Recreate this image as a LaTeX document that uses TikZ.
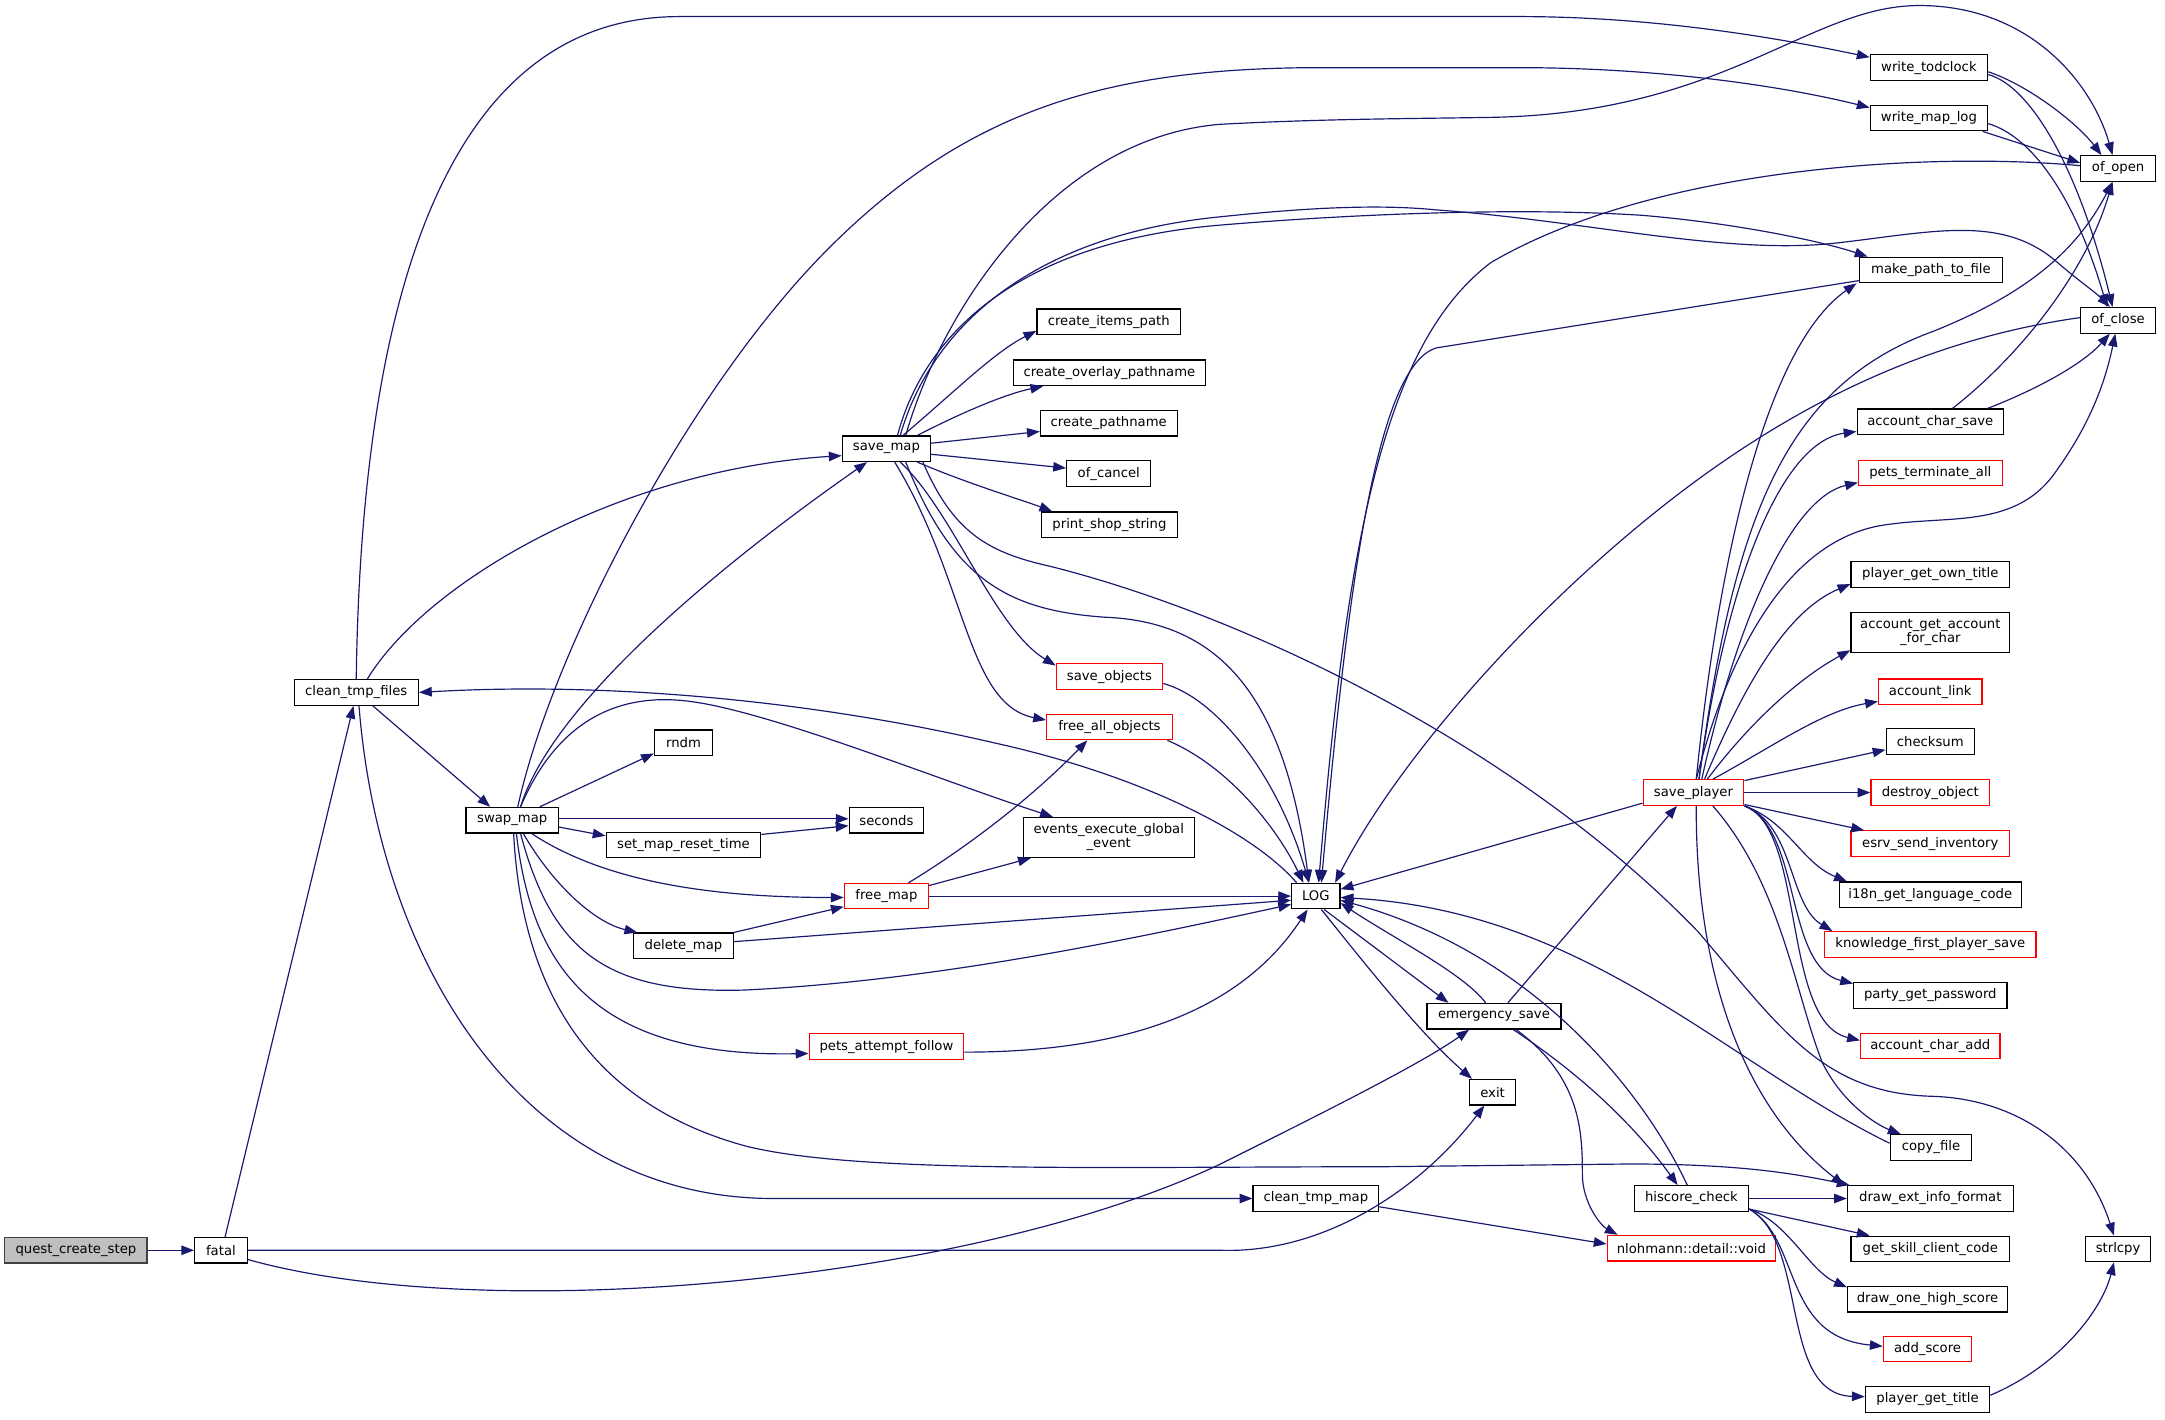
\documentclass[tikz,border=0pt]{standalone}
\usepackage{fontspec}
\setmainfont{DejaVu Sans}
\usetikzlibrary{arrows.meta,calc}
\definecolor{edgeblue}{HTML}{191970}
\definecolor{boxred}{HTML}{FF0000}

\begin{document}
\begin{tikzpicture}[x=0.7pt,y=-0.7pt,
  fn/.style={draw=black, line width=0.6pt, fill=white, inner sep=0.5pt,
    minimum height=12.95pt, font=\fontsize{6.7}{7}\selectfont, align=center},
  redfn/.style={fn, draw=boxred},
  edge/.style={draw=edgeblue, line width=0.6pt, -{Triangle[length=6.5pt,width=4.8pt]}}]
  \useasboundingbox (0,0) rectangle (1568,1028);

  % callers on the left
  \node[fn, fill=gray!50, draw=black!75, minimum width=72.1pt] (qcs) at (55,905.5) {quest\_create\_step};
  \node[fn, minimum width=26.6pt] (fatal) at (160,905.5) {fatal};
  \node[fn, minimum width=63pt] (ctf) at (258,501.5) {clean\_tmp\_files};
  \node[fn, minimum width=46.9pt] (swap) at (371,594) {swap\_map};
  \node[fn, minimum width=44.8pt] (smap) at (642,325) {save\_map};

  % middle columns
  \node[fn, minimum width=72.8pt] (cip) at (803,233) {create\_items\_path};
  \node[fn, minimum width=97.3pt] (cop) at (803.5,270) {create\_overlay\_pathname};
  \node[fn, minimum width=69.3pt] (cpn) at (803,306.5) {create\_pathname};
  \node[fn, minimum width=42.7pt] (ocancel) at (803,343) {of\_cancel};
  \node[fn, minimum width=68.6pt] (pss) at (803.5,380) {print\_shop\_string};
  \node[redfn, minimum width=53.9pt] (sobj) at (803.5,490) {save\_objects};
  \node[redfn, minimum width=63.7pt] (fao) at (803.5,526.5) {free\_all\_objects};
  \node[fn, minimum width=29.4pt] (rndm) at (495,538) {rndm};
  \node[fn, minimum width=37.8pt] (secs) at (642,594) {seconds};
  \node[fn, minimum width=78.4pt] (smrt) at (495,612) {set\_map\_reset\_time};
  \node[fn, minimum width=86.8pt, minimum height=20.3pt] (eeg) at (803,606.5) {events\_execute\_global\\\_event};
  \node[redfn, minimum width=42.7pt] (fmap) at (642,649) {free\_map};
  \node[fn, minimum width=50.4pt] (dmap) at (495,685) {delete\_map};
  \node[redfn, minimum width=78.4pt] (paf) at (642,758) {pets\_attempt\_follow};
  \node[fn, minimum width=24.5pt] (log) at (953,649) {LOG};
  \node[fn, minimum width=67.9pt] (esave) at (1082,736) {emergency\_save};
  \node[fn, minimum width=23.1pt] (exitn) at (1081,791) {exit};
  \node[fn, minimum width=63.7pt] (ctm) at (953,868) {clean\_tmp\_map};
  \node[redfn, minimum width=85.4pt] (nvoid) at (1225,904) {nlohmann::detail::void};
  \node[fn, minimum width=58.1pt] (hsc) at (1225,868) {hiscore\_check};
  \node[redfn, minimum width=51.1pt] (splayer) at (1226.5,574) {save\_player};

  % right columns
  \node[fn, minimum width=59.5pt] (wtc) at (1397,49) {write\_todclock};
  \node[fn, minimum width=59.5pt] (wml) at (1397,85.5) {write\_map\_log};
  \node[fn, minimum width=37.8pt] (oopen) at (1534,122) {of\_open};
  \node[fn, minimum width=72.1pt] (mptf) at (1398.5,195.5) {make\_path\_to\_file};
  \node[fn, minimum width=37.8pt] (oclose) at (1534,232) {of\_close};
  \node[fn, minimum width=74.2pt] (acs) at (1398,305.5) {account\_char\_save};
  \node[redfn, minimum width=72.8pt] (pta) at (1398,342.5) {pets\_terminate\_all};
  \node[fn, minimum width=80.5pt] (pgot) at (1398,416) {player\_get\_own\_title};
  \node[fn, minimum width=80.5pt, minimum height=20.3pt] (agafc) at (1398,458) {account\_get\_account\\\_for\_char};
  \node[redfn, minimum width=52.5pt] (alink) at (1398,501) {account\_link};
  \node[fn, minimum width=44.8pt] (csum) at (1398,537) {checksum};
  \node[redfn, minimum width=60.2pt] (dobj) at (1398,574) {destroy\_object};
  \node[redfn, minimum width=80.5pt] (esi) at (1398,611) {esrv\_send\_inventory};
  \node[fn, minimum width=92.4pt] (i18n) at (1398,648) {i18n\_get\_language\_code};
  \node[redfn, minimum width=107.1pt] (kfps) at (1398,684) {knowledge\_first\_player\_save};
  \node[fn, minimum width=77.7pt] (pgp) at (1398,721) {party\_get\_password};
  \node[redfn, minimum width=70.7pt] (aca) at (1398,757.5) {account\_char\_add};
  \node[fn, minimum width=41.3pt] (cfile) at (1398.5,831) {copy\_file};
  \node[fn, minimum width=84pt] (deif) at (1398,868) {draw\_ext\_info\_format};
  \node[fn, minimum width=80.5pt] (gscc) at (1398,904.5) {get\_skill\_client\_code};
  \node[fn, minimum width=81.2pt] (dohs) at (1396,941) {draw\_one\_high\_score};
  \node[redfn, minimum width=44.8pt] (ascore) at (1396,977) {add\_score};
  \node[fn, minimum width=63pt] (pgt) at (1396,1013.5) {player\_get\_title};
  \node[fn, minimum width=32.9pt] (strl) at (1534,904.5) {strlcpy};

  % fatal
  \draw[edge] (qcs.east) -- (fatal.west);
  \draw[edge] ($(fatal.north)+(3,0)$) -- ($(ctf.south)+(-2,0)$);
  \draw[edge] (fatal.east) -- (884,905.5) .. controls (960,908) and (1030,860) .. ($(exitn.south)+(-6,0)$);
  \draw[edge] ($(fatal.south east)+(0,-3)$) .. controls (350,960) and (700,930) .. (884,843) .. controls (960,805) and (1030,770) .. ($(esave.south)+(-18,0)$);

  % clean_tmp_files
  \draw[edge] (ctf.north) .. controls (262,200) and (330,12) .. (492,12) -- (1100,12) .. controls (1200,12) and (1290,28) .. (wtc.170);
  \draw[edge] ($(ctf.north)+(8,0)$) .. controls (310,420) and (450,340) .. ($(smap.west)+(0,5)$);
  \draw[edge] ($(ctf.south)+(12,0)$) -- ($(swap.north west)+(18,0)$);
  \draw[edge] ($(ctf.south)+(2,0)$) .. controls (275,700) and (380,868) .. (560,868) -- (ctm.west);
  \draw[edge] ($(log.north west)+(4,0)$) .. controls (905,600) and (820,560) .. (720,538) .. controls (600,510) and (450,493) .. (ctf.east);

  % swap_map
  \draw[edge] ($(swap.north)+(6,0)$) .. controls (400,510) and (520,410) .. ($(smap.south)+(-14,0)$);
  \draw[edge] ($(swap.north)+(4,0)$) .. controls (400,470) and (500,280) .. (600,180) .. controls (700,80) and (800,50) .. (950,49) -- (1100,49) .. controls (1200,49) and (1290,62) .. (wml.170);
  \draw[edge] ($(swap.north east)+(-14,0)$) -- ($(rndm.south west)+(0,-2)$);
  \draw[edge] ($(swap.east)+(0,-1)$) -- ($(secs.west)+(0,-1)$);
  \draw[edge] ($(swap.east)+(0,5)$) -- ($(smrt.north west)+(0,3)$);
  \draw[edge] ($(smrt.north east)+(0,2)$) -- ($(secs.west)+(0,4)$);
  \draw[edge] ($(swap.south)+(14,0)$) .. controls (440,640) and (520,650) .. ($(fmap.west)+(0,1)$);
  \draw[edge] ($(swap.south)+(8,0)$) .. controls (400,640) and (430,668) .. ($(dmap.north west)+(3,0)$);
  \draw[edge] (dmap.north east) -- ($(fmap.south west)+(0,-2)$);
  \draw[edge] ($(dmap.east)+(0,-3)$) -- ($(log.west)+(0,3)$);
  \draw[edge] (fmap.east) -- (log.west);
  \draw[edge] ($(fmap.north)+(16,0)$) .. controls (690,620) and (740,585) .. ($(fao.south)+(-16,0)$);
  \draw[edge] ($(fmap.north east)+(0,2)$) -- ($(eeg.south west)+(6,0)$);
  \draw[edge] ($(swap.north)+(6,0)$) .. controls (400,530) and (440,500) .. (500,508) .. controls (560,516) and (680,565) .. ($(eeg.north west)+(22,0)$);
  \draw[edge] ($(swap.south)+(6,0)$) .. controls (400,690) and (440,720) .. (540,717) .. controls (680,710) and (820,680) .. ($(log.west)+(0,6)$);
  \draw[edge] ($(swap.south)+(3,0)$) .. controls (385,700) and (430,766) .. ($(paf.west)+(0,5)$);
  \draw[edge] ($(paf.east)+(0,4)$) .. controls (820,762) and (900,730) .. ($(log.south)+(-6,0)$);
  \draw[edge] ($(swap.south)+(1,0)$) .. controls (378,720) and (430,800) .. (540,830) .. controls (620,850) and (800,845) .. (1000,845) -- (1180,843) .. controls (1260,843) and (1300,850) .. ($(deif.north west)+(2,0)$);

  % save_map
  \draw[edge] ($(smap.north)+(14,0)$) .. controls (680,230) and (760,100) .. (884,90) .. controls (960,86) and (1020,86) .. (1080,85) .. controls (1250,82) and (1310,4) .. (1390,4) .. controls (1470,4) and (1515,60) .. ($(oopen.north)+(-4,0)$);
  \draw[edge] ($(smap.north)+(8,0)$) .. controls (670,240) and (740,175) .. (884,163) .. controls (980,155) and (1100,150) .. (1190,156) .. controls (1260,162) and (1320,175) .. ($(mptf.north west)+(6,0)$);
  \draw[edge] ($(smap.north)+(10,0)$) .. controls (675,235) and (750,170) .. (884,157) .. controls (950,150) and (1000,148) .. (1040,152) .. controls (1150,160) and (1250,185) .. (1330,176) .. controls (1400,168) and (1450,155) .. (1490,190) .. controls (1505,203) and (1518,212) .. ($(oclose.north)+(-6,0)$);
  \draw[edge] ($(smap.north)+(12,0)$) .. controls (690,285) and (720,255) .. ($(cip.south west)+(0,-3)$);
  \draw[edge] ($(smap.north east)+(-10,0)$) .. controls (700,297) and (730,285) .. ($(cop.south west)+(22,0)$);
  \draw[edge] ($(smap.east)+(0,-4)$) -- ($(cpn.west)+(0,6)$);
  \draw[edge] ($(smap.east)+(0,4)$) -- ($(ocancel.west)+(0,-4)$);
  \draw[edge] ($(smap.south east)+(-10,0)$) .. controls (700,350) and (740,362) .. ($(pss.north west)+(8,0)$);
  \draw[edge] ($(smap.south)+(10,0)$) .. controls (690,370) and (720,455) .. ($(sobj.west)+(0,-8)$);
  \draw[edge] ($(smap.south)+(6,0)$) .. controls (700,420) and (700,510) .. ($(fao.west)+(0,-5)$);
  \draw[edge] ($(smap.south)+(14,0)$) .. controls (690,420) and (730,442) .. (800,447) .. controls (880,450) and (930,500) .. ($(log.north)+(-5,0)$);
  \draw[edge] ($(smap.south east)+(-6,0)$) .. controls (690,385) and (715,400) .. (760,410) .. controls (900,445) and (1100,540) .. (1230,675) .. controls (1290,745) and (1320,792) .. (1400,794) .. controls (1460,796) and (1510,830) .. ($(strl.north)+(-3,0)$);
  \draw[edge] ($(sobj.east)+(0,5)$) .. controls (880,505) and (925,560) .. ($(log.north)+(-5,0)$);
  \draw[edge] ($(fao.south east)+(-4,0)$) .. controls (890,555) and (925,600) .. ($(log.north)+(-9,0)$);

  % of_open, of_close
  \draw[edge] ($(wtc.east)+(0,3)$) .. controls (1470,62) and (1505,90) .. ($(oopen.north)+(-12,0)$);
  \draw[edge] ($(wtc.east)+(0,5)$) .. controls (1470,62) and (1505,120) .. ($(oclose.north)+(-4,0)$);
  \draw[edge] ($(wml.south east)+(-4,0)$) -- ($(oopen.west)+(0,-4)$);
  \draw[edge] ($(wml.east)+(0,4)$) .. controls (1475,100) and (1505,150) .. ($(oclose.north)+(-8,0)$);
  \draw[edge] ($(acs.north)+(16,0)$) .. controls (1460,260) and (1510,200) .. ($(oopen.south)+(-4,0)$);
  \draw[edge] ($(acs.north east)+(-12,0)$) .. controls (1480,280) and (1510,262) .. ($(oclose.south)+(-6,0)$);
  \draw[edge] ($(oopen.west)+(0,-2)$) .. controls (1400,110) and (1200,120) .. (1080,190) .. controls (1000,250) and (975,400) .. ($(log.north)+(2,0)$);
  \draw[edge] ($(mptf.south west)+(0,-2)$) -- (1040,252) .. controls (1000,265) and (978,400) .. ($(log.north)+(4,0)$);
  \draw[edge] ($(oclose.west)+(0,-2)$) .. controls (1400,245) and (1300,290) .. (1200,370) .. controls (1100,450) and (1010,555) .. ($(log.north east)+(-4,0)$);

  % save_player
  \draw[edge] ($(splayer.north)+(4,0)$) .. controls (1255,380) and (1290,280) .. (1400,240) .. controls (1470,212) and (1505,180) .. ($(oopen.south)+(-4,0)$);
  \draw[edge] ($(splayer.north)+(2,0)$) .. controls (1245,400) and (1280,250) .. ($(mptf.south west)+(-2,0)$);
  \draw[edge] ($(splayer.north)+(2,0)$) .. controls (1250,480) and (1290,395) .. (1360,381) .. controls (1410,372) and (1460,385) .. (1490,340) .. controls (1515,305) and (1525,275) .. ($(oclose.south)+(-2,0)$);
  \draw[edge] ($(splayer.north)+(4,0)$) .. controls (1250,420) and (1290,320) .. ($(acs.west)+(0,7)$);
  \draw[edge] ($(splayer.north)+(6,0)$) .. controls (1260,440) and (1300,360) .. ($(pta.west)+(0,7)$);
  \draw[edge] ($(splayer.north)+(8,0)$) .. controls (1270,480) and (1300,440) .. ($(pgot.west)+(0,7)$);
  \draw[edge] ($(splayer.north)+(10,0)$) .. controls (1270,520) and (1305,490) .. ($(agafc.south west)+(0,-2)$);
  \draw[edge] ($(splayer.north)+(14,0)$) .. controls (1285,540) and (1320,515) .. ($(alink.west)+(0,7)$);
  \draw[edge] ($(splayer.north east)+(0,1)$) -- ($(csum.west)+(0,6)$);
  \draw[edge] (splayer.east) -- (dobj.west);
  \draw[edge] ($(splayer.south east)+(0,-1)$) -- ($(esi.north west)+(10,0)$);
  \draw[edge] (splayer.south east) .. controls (1295,595) and (1305,625) .. ($(i18n.north west)+(6,0)$);
  \draw[edge] (splayer.south east) .. controls (1300,598) and (1295,655) .. ($(kfps.north west)+(6,0)$);
  \draw[edge] (splayer.south east) .. controls (1305,600) and (1292,700) .. ($(pgp.north west)+(0,1)$);
  \draw[edge] (splayer.south east) .. controls (1308,600) and (1290,740) .. ($(aca.west)+(0,-4)$);
  \draw[edge] ($(splayer.south)+(14,0)$) .. controls (1290,640) and (1300,720) .. (1320,770) .. controls (1335,800) and (1360,815) .. ($(cfile.north west)+(8,0)$);
  \draw[edge] ($(splayer.south)+(2,0)$) .. controls (1228,700) and (1260,800) .. ($(deif.north west)+(-2,0)$);
  \draw[edge] ($(splayer.south west)+(0,-2)$) -- ($(log.east)+(0,-5)$);

  % LOG, emergency_save
  \draw[edge] ($(log.south)+(6,0)$) -- ($(esave.north west)+(16,0)$);
  \draw[edge] ($(log.south)+(4,0)$) .. controls (990,700) and (1030,750) .. ($(exitn.north west)+(2,0)$);
  \draw[edge] ($(esave.north)+(-6,0)$) .. controls (1060,705) and (1010,680) .. ($(log.east)+(0,5)$);
  \draw[edge] ($(esave.north)+(10,0)$) -- ($(splayer.south)+(-12,0)$);
  \draw[edge] ($(esave.south)+(14,0)$) .. controls (1140,775) and (1180,810) .. ($(hsc.north)+(-10,0)$);
  \draw[edge] ($(esave.south)+(16,0)$) .. controls (1145,780) and (1146,820) .. (1146,850) .. controls (1146,872) and (1160,888) .. ($(nvoid.north west)+(8,0)$);
  \draw[edge] ($(hsc.north)+(-3,0)$) .. controls (1190,790) and (1110,690) .. ($(log.east)+(0,3)$);
  \draw[edge] ($(cfile.west)+(0,-3)$) .. controls (1250,770) and (1150,660) .. ($(log.east)+(0,1)$);
  \draw[edge] ($(ctm.east)+(0,6)$) -- ($(nvoid.west)+(0,-3)$);

  % hiscore_check
  \draw[edge] (hsc.east) -- (deif.west);
  \draw[edge] ($(hsc.south east)+(0,-2)$) -- ($(gscc.north west)+(14,0)$);
  \draw[edge] ($(hsc.south east)+(0,-2)$) .. controls (1295,885) and (1310,920) .. ($(dohs.north west)+(0,1)$);
  \draw[edge] ($(hsc.south east)+(0,-2)$) .. controls (1305,898) and (1290,968) .. ($(ascore.west)+(0,-2)$);
  \draw[edge] ($(hsc.south east)+(0,-2)$) .. controls (1310,900) and (1288,1010) .. ($(pgt.west)+(0,-2)$);
  \draw[edge] ($(pgt.east)+(0,-3)$) .. controls (1490,990) and (1522,950) .. ($(strl.south)+(-3,0)$);
\end{tikzpicture}
\end{document}
